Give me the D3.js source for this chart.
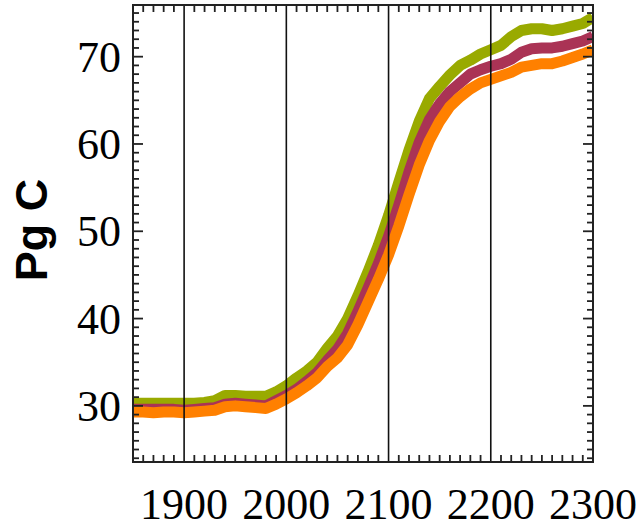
<!DOCTYPE html>
<html>
<head>
<meta charset="utf-8">
<script src="https://cdn.jsdelivr.net/npm/d3@7"></script>
<style>
    body { margin: 0; background: #fff; }
    .tickLabel { font-family: "Liberation Serif", "Times New Roman", serif; font-size: 44px; fill: #000; }
    .axisTitle { font-family: "Liberation Sans", Arial, sans-serif; font-size: 45px; font-weight: bold; fill: #000; }
</style>
</head>
<body>
<div id="chart"></div>
<script>

// years sampled every decade
var years = [1850, 1860, 1870, 1880, 1890, 1900, 1910, 1920, 1930, 1940,
    1950, 1960, 1970, 1980, 1990, 2000, 2010, 2020, 2030, 2040,
    2050, 2060, 2070, 2080, 2090, 2100, 2110, 2120, 2130, 2140,
    2150, 2160, 2170, 2180, 2190, 2200, 2210, 2220, 2230, 2240,
    2250, 2260, 2270, 2280, 2290, 2300];

var greenValues = [30.3, 30.3, 30.3, 30.3, 30.3, 30.3, 30.3, 30.4, 30.6, 31.2,
    31.2, 31.1, 31.1, 31.1, 31.6, 32.3, 33.2, 34.0, 35.0, 36.6,
    38.0, 40.0, 42.6, 45.4, 48.4, 51.8, 55.6, 59.3, 62.6, 65.2,
    66.6, 67.9, 69.0, 69.6, 70.3, 70.8, 71.3, 72.3, 73.0, 73.2,
    73.2, 73.0, 73.2, 73.5, 73.8, 74.5];

var maroonValues = [29.6, 29.6, 29.6, 29.6, 29.6, 29.5, 29.6, 29.7, 29.8, 30.2,
    30.3, 30.2, 30.1, 30.0, 30.6, 31.2, 31.9, 32.8, 33.8, 35.2,
    36.5, 38.3, 40.8, 43.5, 46.3, 49.4, 53.0, 56.8, 60.2, 62.8,
    64.6, 66.0, 67.0, 68.0, 68.5, 68.9, 69.2, 69.7, 70.5, 70.9,
    71.0, 71.0, 71.2, 71.5, 71.8, 72.3];

var orangeValues = [29.3, 29.3, 29.2, 29.3, 29.3, 29.2, 29.3, 29.4, 29.5, 29.9,
    30.0, 29.9, 29.8, 29.7, 30.2, 30.8, 31.5, 32.3, 33.2, 34.5,
    35.5, 37.0, 39.3, 41.9, 44.5, 47.3, 50.6, 54.2, 57.6, 60.4,
    62.6, 64.3, 65.4, 66.3, 67.0, 67.4, 67.8, 68.2, 68.8, 69.0,
    69.2, 69.2, 69.5, 69.9, 70.3, 70.8];

var xTickLabels = [1900, 2000, 2100, 2200, 2300];
var yTickLabels = [30, 40, 50, 60, 70];
var yAxisTitle = "Pg C";

var width = 636, height = 528;
var margin = {top: 5, right: 43, bottom: 66, left: 133};

var svg = d3.select("#chart").append("svg")
    .attr("width", width)
    .attr("height", height);

var xScale = d3.scaleLinear()
    .domain([1850, 2300])
    .range([margin.left, width - margin.right]);

var yScale = d3.scaleLinear()
    .domain([23.57, 75.92])
    .range([height - margin.bottom, margin.top]);

var plotTop = margin.top, plotBottom = height - margin.bottom;
var plotLeft = margin.left, plotRight = width - margin.right;

svg.append("clipPath").attr("id", "plotClip")
    .append("rect")
    .attr("x", plotLeft).attr("y", plotTop)
    .attr("width", plotRight - plotLeft).attr("height", plotBottom - plotTop);

//series drawn green first, then maroon, then orange on top
var series = [
    {values: greenValues, color: "#99aa00"},
    {values: maroonValues, color: "#aa3355"},
    {values: orangeValues, color: "#ff8000"}
];

var line = d3.line()
    .x(function (d, i) { return xScale(years[i]); })
    .y(function (d) { return yScale(d); });

svg.append("g").attr("clip-path", "url(#plotClip)")
    .selectAll("path").data(series)
    .enter()
    .append("path")
    .attr("d", function (d) { return line(d.values); })
    .attr("fill", "none")
    .attr("stroke", function (d) { return d.color; })
    .attr("stroke-width", 11)
    .attr("stroke-linejoin", "round");

//century gridlines
svg.selectAll(".grid").data([1900, 2000, 2100, 2200])
    .enter()
    .append("line")
    .attr("x1", function (d) { return xScale(d); })
    .attr("x2", function (d) { return xScale(d); })
    .attr("y1", plotTop)
    .attr("y2", plotBottom)
    .attr("stroke", "#111")
    .attr("stroke-width", 1.6);

//x minor ticks every 10 years, inside, top and bottom
var xMinor = d3.range(1860, 2300, 10).filter(function (d) { return d % 100 != 0; });
var ticks = svg.append("g").attr("stroke", "#222").attr("stroke-width", 1.8);

ticks.selectAll(".xb").data(xMinor).enter().append("line")
    .attr("x1", function (d) { return xScale(d); })
    .attr("x2", function (d) { return xScale(d); })
    .attr("y1", plotBottom).attr("y2", plotBottom - 7);

ticks.selectAll(".xt").data(xMinor).enter().append("line")
    .attr("x1", function (d) { return xScale(d); })
    .attr("x2", function (d) { return xScale(d); })
    .attr("y1", plotTop).attr("y2", plotTop + 7);

//y ticks every unit, longer at every 10
var yMinor = d3.range(24, 76, 1);
ticks.selectAll(".yl").data(yMinor).enter().append("line")
    .attr("y1", function (d) { return yScale(d); })
    .attr("y2", function (d) { return yScale(d); })
    .attr("x1", plotLeft)
    .attr("x2", function (d) { return plotLeft + (d % 10 == 0 ? 10 : 6); });

ticks.selectAll(".yr").data(yMinor).enter().append("line")
    .attr("y1", function (d) { return yScale(d); })
    .attr("y2", function (d) { return yScale(d); })
    .attr("x1", plotRight)
    .attr("x2", function (d) { return plotRight - (d % 10 == 0 ? 10 : 6); });

//frame
svg.append("rect")
    .attr("x", plotLeft).attr("y", plotTop)
    .attr("width", plotRight - plotLeft).attr("height", plotBottom - plotTop)
    .attr("fill", "none")
    .attr("stroke", "#222")
    .attr("stroke-width", 2);

//tick labels
svg.selectAll(".xlab").data(xTickLabels)
    .enter()
    .append("text")
    .attr("class", "tickLabel")
    .attr("x", function (d) { return xScale(d); })
    .attr("y", 519)
    .attr("text-anchor", "middle")
    .text(function (d) { return d; });

svg.selectAll(".ylab").data(yTickLabels)
    .enter()
    .append("text")
    .attr("class", "tickLabel")
    .attr("x", plotLeft - 12)
    .attr("y", function (d) { return yScale(d); })
    .attr("dy", "0.34em")
    .attr("text-anchor", "end")
    .text(function (d) { return d; });

svg.append("text")
    .attr("class", "axisTitle")
    .attr("transform", "translate(47," + 230 + ") rotate(-90)")
    .attr("text-anchor", "middle")
    .text(yAxisTitle);

</script>
</body>
</html>
